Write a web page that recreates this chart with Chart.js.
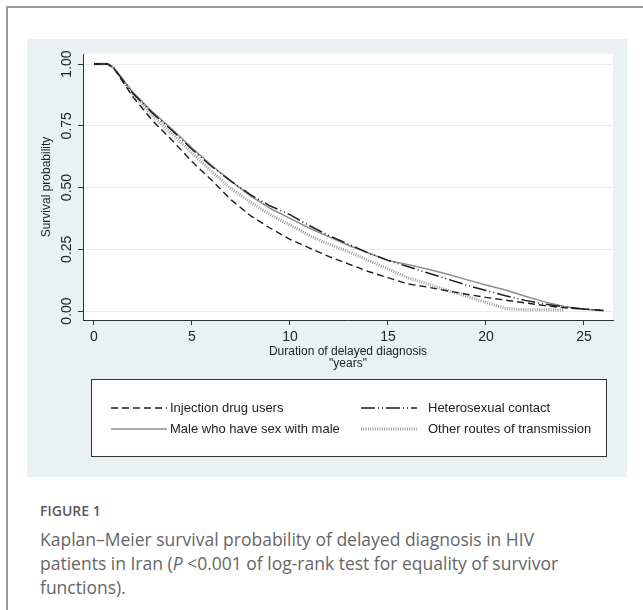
<!DOCTYPE html>
<html>
<head>
<meta charset="utf-8">
<script src="https://cdn.jsdelivr.net/npm/chart.js@4.4.1/dist/chart.umd.min.js"></script>
<style>
  body { margin: 0; width: 643px; height: 610px; overflow: hidden; background: #fff; position: relative; }
  #frame { position: absolute; left: 6px; top: 6px; width: 700px; height: 700px;
           border-left: 2px solid #9a9a9a; border-top: 2px solid #9a9a9a; }
  #panel { position: absolute; left: 27px; top: 39px; width: 600px; height: 438px; background: #e9f1f3; }
  #fig { position: absolute; left: 40px; top: 501px; font: 600 14px "Open Sans", sans-serif; color: #5a5a5a; }
  #caption { position: absolute; left: 40px; top: 527px; width: 560px; font: 400 17.5px/24px "Open Sans", sans-serif; color: #666; }
</style>
</head>
<body>
<div id="frame"></div>
<div id="panel"><canvas id="chart" width="600" height="438"></canvas></div>
<div id="fig">FIGURE 1</div>
<div id="caption">Kaplan–Meier survival probability of delayed diagnosis in HIV patients in Iran (<i>P</i> &lt;0.001 of log-rank test for equality of survivor functions).</div>
<script>
// survival curves (years, probability)
const years = [0, 0.7, 1, 2, 3, 4, 5, 6, 7, 8, 9, 10, 11, 12, 13, 14, 15, 16, 17, 18, 19, 20, 21, 22, 23, 24, 25, 26];
const idu = [1, 1, 0.985, 0.865, 0.77, 0.69, 0.605, 0.53, 0.45, 0.385, 0.335, 0.29, 0.255, 0.22, 0.19, 0.16, 0.135, 0.11, 0.097, 0.082, 0.068, 0.055, 0.044, 0.033, 0.022, 0.013, 0.008, 0.003];
const hetero = [1, 1, 0.985, 0.88, 0.8, 0.73, 0.655, 0.585, 0.525, 0.47, 0.425, 0.39, 0.345, 0.305, 0.27, 0.235, 0.205, 0.18, 0.155, 0.13, 0.105, 0.083, 0.062, 0.043, 0.028, 0.016, 0.008, 0.002];
const msm = [1, 1, 0.985, 0.885, 0.805, 0.735, 0.66, 0.59, 0.525, 0.465, 0.415, 0.375, 0.335, 0.3, 0.265, 0.235, 0.205, 0.188, 0.17, 0.15, 0.127, 0.105, 0.085, 0.06, 0.037, 0.018, 0.007, 0.001];
const other = [1, 1, 0.985, 0.875, 0.79, 0.715, 0.64, 0.565, 0.495, 0.44, 0.39, 0.348, 0.305, 0.27, 0.24, 0.205, 0.17, 0.135, 0.11, 0.085, 0.06, 0.035, 0.01, 0.005, 0.005, 0.004, null, null];

const seriesNames = ['Injection drug users', 'Heterosexual contact', 'Male who have sex with male', 'Other routes of transmission'];
const xTicks = [0, 5, 10, 15, 20, 25];
const yTicks = [0, 0.25, 0.5, 0.75, 1];
const yTickLabels = ['0.00', '0.25', '0.50', '0.75', '1.00'];

const styles = [
  { color: '#1e1e1e', width: 1.4, dash: [7, 4] },
  { color: '#1e1e1e', width: 1.5, dash: [14, 3, 1, 3, 1, 3] },
  { color: '#8e8e8e', width: 1.5, dash: [] },
  { color: '#9c9c9c', width: 3, dash: [1, 1.3] }
];

function pts(vals) {
  return years.map((t, i) => ({ x: t, y: vals[i] }));
}

const FONT = 'Liberation Sans, Arial, sans-serif';

// white plot area, rotated y labels, legend box
const extras = {
  id: 'extras',
  beforeDraw(chart) {
    const { ctx, chartArea: a } = chart;
    ctx.save();
    ctx.fillStyle = '#fff';
    ctx.fillRect(a.left, a.top, a.right - a.left, a.bottom - a.top);
    ctx.restore();
  },
  afterDraw(chart) {
    const ctx = chart.ctx;
    const ys = chart.scales.y;
    ctx.save();
    ctx.fillStyle = '#222';
    ctx.font = '14px ' + FONT;
    ctx.textAlign = 'center';
    ctx.textBaseline = 'middle';
    yTicks.forEach((v, i) => {
      ctx.save();
      ctx.translate(40, ys.getPixelForValue(v));
      ctx.rotate(-Math.PI / 2);
      ctx.fillText(yTickLabels[i], 0, 0);
      ctx.restore();
    });

    // legend
    ctx.fillStyle = '#fff';
    ctx.fillRect(64, 340, 515, 77);
    ctx.strokeStyle = '#333';
    ctx.lineWidth = 1;
    ctx.strokeRect(64.5, 340.5, 515, 77);
    const cols = [84, 334];
    const rows = [369, 390];
    ctx.font = '13px ' + FONT;
    ctx.textAlign = 'left';
    seriesNames.forEach((name, i) => {
      const x = cols[i % 2], y = rows[Math.floor(i / 2)];
      const s = styles[i];
      ctx.beginPath();
      ctx.setLineDash(s.dash);
      ctx.strokeStyle = s.color;
      ctx.lineWidth = s.width;
      ctx.moveTo(x, y);
      ctx.lineTo(x + 56, y);
      ctx.stroke();
      ctx.setLineDash([]);
      ctx.fillStyle = '#222';
      ctx.fillText(name, x + (i % 2 ? 67 : 59), y);
    });
    ctx.restore();
  }
};

new Chart(document.getElementById('chart'), {
  type: 'line',
  data: {
    datasets: [idu, hetero, msm, other].map((vals, i) => ({
      label: seriesNames[i],
      data: pts(vals),
      borderColor: styles[i].color,
      borderWidth: styles[i].width,
      borderDash: styles[i].dash,
      pointRadius: 0,
      tension: 0,
      fill: false,
      spanGaps: false
    }))
  },
  options: {
    responsive: false,
    animation: false,
    layout: { padding: { left: 0, top: 15, right: 14, bottom: 108 } },
    plugins: { legend: { display: false }, tooltip: { enabled: false } },
    scales: {
      x: {
        type: 'linear',
        min: -0.56,
        max: 26.48,
        afterBuildTicks: s => { s.ticks = xTicks.map(v => ({ value: v })); },
        afterFit: s => { s.height = 49; },
        grid: { drawOnChartArea: false, tickLength: 5, tickColor: '#333' },
        border: { color: '#333', width: 1 },
        ticks: { color: '#222', font: { family: FONT, size: 14 }, padding: 4, maxRotation: 0, autoSkip: false },
        title: {
          display: true,
          text: ['Duration of delayed diagnosis', '"years"'],
          color: '#222',
          font: { family: FONT, size: 12, lineHeight: 0.95 },
          padding: { top: 0, bottom: 0 }
        }
      },
      y: {
        min: -0.0364,
        max: 1.0405,
        afterBuildTicks: s => { s.ticks = yTicks.map(v => ({ value: v })); },
        afterFit: s => { s.width = 56; },
        grid: { color: '#e4eef0', lineWidth: 1, tickLength: 5, tickColor: '#333' },
        border: { color: '#333', width: 1 },
        ticks: { display: false },
        title: {
          display: true,
          text: 'Survival probability',
          color: '#222',
          font: { family: FONT, size: 12 },
          padding: { top: 12, bottom: 0 }
        }
      }
    }
  },
  plugins: [extras]
});
</script>
</body>
</html>
